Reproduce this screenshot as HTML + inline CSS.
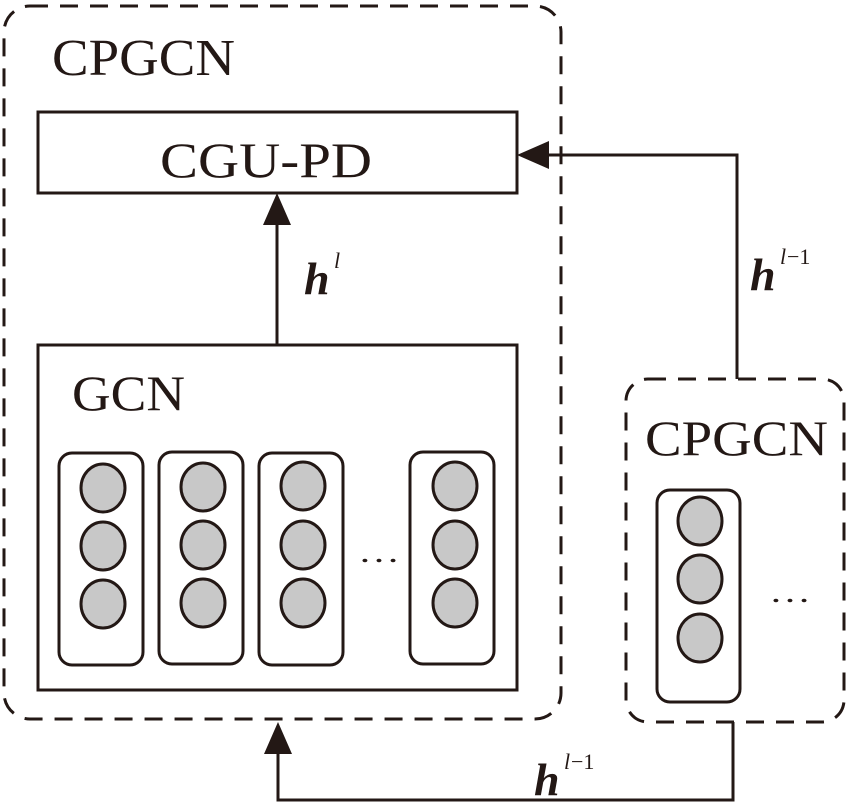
<!DOCTYPE html>
<html><head><style>
html,body{margin:0;padding:0;background:#fff}
svg{display:block}
text{font-family:"Liberation Serif",serif;fill:#231815}
</style></head><body>
<svg width="850" height="810" viewBox="0 0 850 810" xmlns="http://www.w3.org/2000/svg">
<g fill="none" stroke="#231815" stroke-width="3">
<rect x="4" y="6" width="557" height="713" rx="26" stroke-dasharray="18,12"/>
<rect x="626" y="379" width="218" height="343" rx="22" stroke-dasharray="18,12"/>
<rect x="38" y="112" width="479" height="81"/>
<rect x="38" y="345" width="479" height="345"/>
<rect x="59" y="453" width="84" height="212" rx="13"/>
<rect x="159" y="452" width="84" height="212" rx="13"/>
<rect x="259" y="453" width="84" height="212" rx="13"/>
<rect x="410" y="452" width="84" height="212" rx="13"/>
<rect x="657" y="490" width="83" height="212" rx="13"/>
<line x1="277" y1="345" x2="277" y2="222"/>
<polyline points="737,379 737,155 548,155"/>
<polyline points="733,722 733,800 278,800 278,752"/>
</g>
<g fill="#231815">
<polygon points="277,193 263,225 291,225"/>
<polygon points="517,155 549,141 549,169"/>
<polygon points="278,722 264,754 292,754"/>
</g>
<g fill="#c8c8c8" stroke="#231815" stroke-width="3">
<ellipse cx="103" cy="488" rx="22" ry="24"/><ellipse cx="103" cy="546" rx="22" ry="24"/><ellipse cx="103" cy="604" rx="22" ry="24"/>
<ellipse cx="203" cy="487" rx="22" ry="24"/><ellipse cx="203" cy="545" rx="22" ry="24"/><ellipse cx="203" cy="603" rx="22" ry="24"/>
<ellipse cx="303" cy="486" rx="22" ry="24"/><ellipse cx="303" cy="545" rx="22" ry="24"/><ellipse cx="303" cy="603" rx="22" ry="24"/>
<ellipse cx="455" cy="486" rx="22" ry="24"/><ellipse cx="455" cy="545" rx="22" ry="24"/><ellipse cx="455" cy="603" rx="22" ry="24"/>
<ellipse cx="700" cy="521" rx="22" ry="24"/><ellipse cx="700" cy="579" rx="22" ry="24"/><ellipse cx="700" cy="638" rx="22" ry="24"/>
</g>
<text x="52" y="75" font-size="52" textLength="183" lengthAdjust="spacingAndGlyphs">CPGCN</text>
<text x="160" y="177" font-size="50" textLength="212" lengthAdjust="spacingAndGlyphs">CGU-PD</text>
<text x="72" y="410" font-size="50" textLength="113" lengthAdjust="spacingAndGlyphs">GCN</text>
<text x="645" y="455" font-size="50" textLength="183" lengthAdjust="spacingAndGlyphs">CPGCN</text>
<text x="358" y="562" font-size="30" textLength="42" lengthAdjust="spacingAndGlyphs">…</text>
<text x="769" y="602" font-size="30" textLength="42" lengthAdjust="spacingAndGlyphs">…</text>
<text x="304" y="294" font-size="46" font-weight="bold" font-style="italic">h</text>
<text x="334" y="268" font-size="22" font-style="italic">l</text>
<text x="750" y="290" font-size="46" font-weight="bold" font-style="italic">h</text>
<text x="780" y="264" font-size="22" font-style="italic">l</text><text x="787" y="264" font-size="22">−1</text>
<text x="534" y="795" font-size="46" font-weight="bold" font-style="italic">h</text>
<text x="564" y="769" font-size="22" font-style="italic">l</text><text x="571" y="769" font-size="22">−1</text>
</svg>
</body></html>
